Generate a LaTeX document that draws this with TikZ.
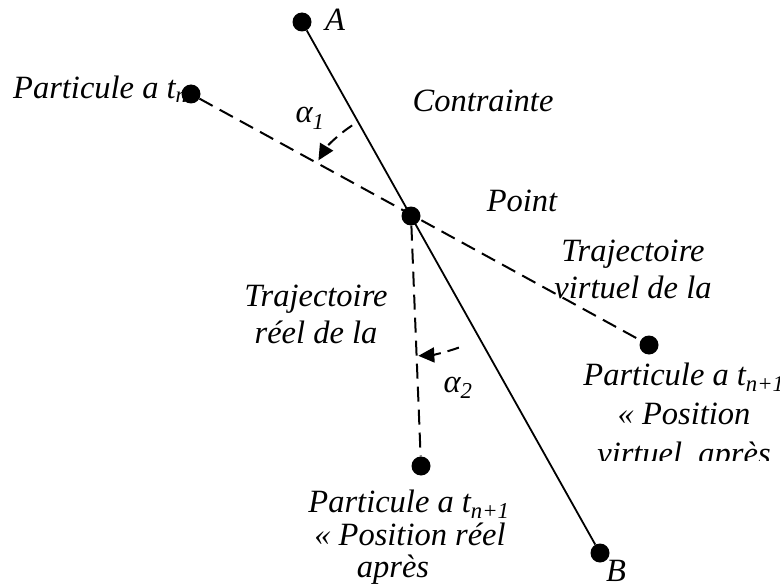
\documentclass[tikz,border=0pt]{standalone}
\usepackage{fontspec}
\setmainfont{Liberation Serif}
\usetikzlibrary{arrows.meta}
\begin{document}
\begin{tikzpicture}[x=1pt,y=-1pt,
  dot/.style={circle,fill=black,inner sep=0pt,minimum size=19pt},
  lbl/.style={font=\fontsize{32.5}{36}\selectfont\itshape,inner sep=0pt,anchor=base},
  traj/.style={line width=2pt,dash pattern=on 15pt off 8pt},
  rod/.style={line width=1.8pt},
  angarc/.style={line width=2pt,dash pattern=on 12pt off 7pt,-{Triangle[length=16pt,width=15pt]}}
]
\useasboundingbox (0,0) rectangle (780,586);
% labels first (dots drawn over them)
\node[lbl,anchor=base west] (ltn) at (13,99) {Particule a t\textsubscript{n}};
\node[lbl] (lA) at (335,31) {A};
\node[lbl] (lB) at (616,581) {B};
\node[lbl] (lcont) at (483,111) {Contrainte};
\node[lbl] (lpoint) at (522,211) {Point};
\node[lbl] (la1) at (310,123) {α\textsubscript{1}};
\node[lbl] (la2) at (458,392) {α\textsubscript{2}};
\node[lbl] (ltv1) at (633,261) {Trajectoire};
\node[lbl] (ltv2) at (633,298) {virtuel de la};
\node[lbl] (ltr1) at (316,306) {Trajectoire};
\node[lbl] (ltr2) at (316,343) {réel de la};
\node[lbl] (lv1) at (684,385) {Particule a t\textsubscript{n+1}};
\node[lbl] (lv2) at (684,424) {« Position};
\begin{scope}
  \clip (540,440) rectangle (780,460);
  \node[lbl] (lv3) at (684,464) {virtuel\ \ après};
\end{scope}
\node[lbl] (lr1) at (409,512) {Particule a t\textsubscript{n+1}};
\node[lbl] (lr2) at (410,545) {« Position réel};
\node[lbl] (lr3) at (393,577) {après};
% points
\node[dot] (A) at (302,22) {};
\node[dot] (B) at (600,553) {};
\node[dot] (P) at (411,216) {};
\node[dot] (T) at (191,94) {};
\node[dot] (V) at (649,345) {};
\node[dot] (R) at (421,466) {};
% lines
\draw[rod] (A) -- (B);
\draw[traj] (T) -- (V);
\draw[traj] (P) -- (R);
% angle arcs
\draw[angarc] ([shift={(237:108)}]P.center) arc[start angle=237,end angle=211,radius=108];
\draw[angarc] ([shift={(70:140)}]P.center) arc[start angle=70,end angle=87,radius=140];
\end{tikzpicture}
\end{document}
